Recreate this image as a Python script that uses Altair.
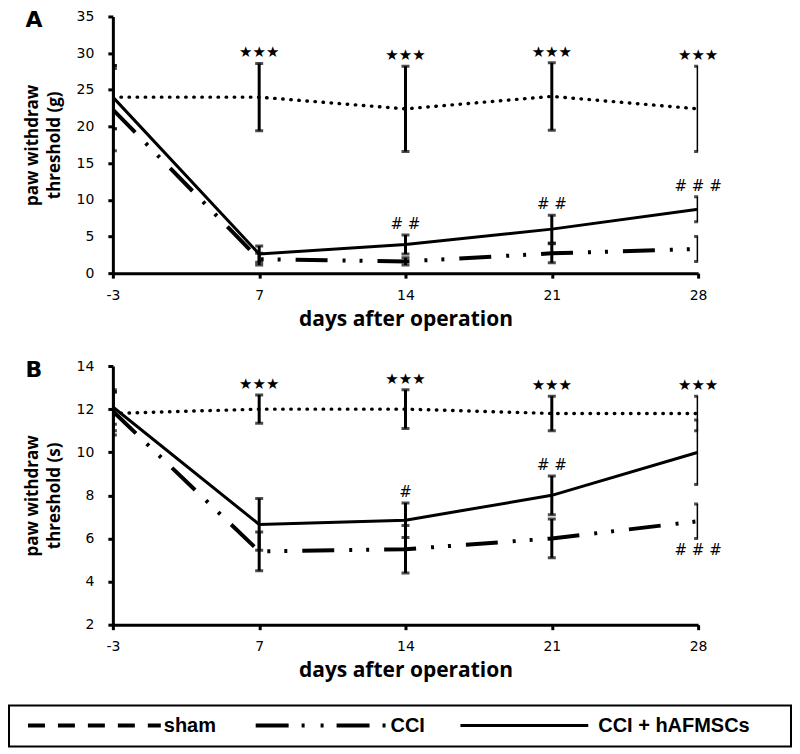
import altair as alt
import pandas as pd

days = ["-3", "7", "14", "21", "28"]
groups = ["sham", "CCI", "CCI + hAFMSCs"]

# Panel A: paw withdraw threshold (g)
sham_A = [24.0, 24.0, 22.4, 24.1, 22.4]
sham_A_err = [4.3, 4.6, 5.8, 4.6, 5.8]
cci_A = [22.3, 1.9, 1.6, 2.7, 3.3]
cci_A_err = [5.6, 0.8, 0.5, 1.3, 1.7]
haf_A = [24.0, 2.6, 3.9, 6.0, 8.7]
haf_A_err = [4.3, 1.1, 1.3, 1.9, 1.7]

# Panel B: paw withdraw threshold (s)
sham_B = [11.8, 12.0, 12.0, 11.8, 11.8]
sham_B_err = [1.0, 0.65, 0.9, 0.8, 0.8]
cci_B = [11.9, 5.4, 5.5, 6.0, 6.8]
cci_B_err = [0.9, 0.9, 1.1, 0.9, 0.8]
haf_B = [12.1, 6.65, 6.85, 8.0, 10.0]
haf_B_err = [0.8, 1.2, 0.8, 0.9, 1.5]

# significance annotations
ann_A_days = ["7", "14", "21", "28", "14", "21", "28"]
ann_A_text = ["★★★", "★★★", "★★★", "★★★", "# #", "# #", "# # #"]
ann_A_ref = ["sham"] * 4 + ["CCI + hAFMSCs"] * 3
ann_A_side = ["above"] * 7

ann_B_days = ["7", "14", "21", "28", "14", "21", "28"]
ann_B_text = ["★★★", "★★★", "★★★", "★★★", "#", "# #", "# # #"]
ann_B_ref = ["sham"] * 4 + ["CCI + hAFMSCs"] * 2 + ["CCI"]
ann_B_side = ["above"] * 6 + ["below"]


def make_df(series):
    rows = []
    for g, (m, e) in zip(groups, series):
        for d, mi, ei in zip(days, m, e):
            rows.append(dict(day=d, group=g, mean=mi, lo=mi - ei, hi=mi + ei))
    return pd.DataFrame(rows)


def make_ann(df, dd, tt, rr, ss):
    rows = []
    for d, t, r, s in zip(dd, tt, rr, ss):
        row = df[(df.day == d) & (df.group == r)].iloc[0]
        rows.append(dict(day=d, label=t, side=s, y=row.hi if s == "above" else row.lo))
    return pd.DataFrame(rows)


dfA = make_df([(sham_A, sham_A_err), (cci_A, cci_A_err), (haf_A, haf_A_err)])
dfB = make_df([(sham_B, sham_B_err), (cci_B, cci_B_err), (haf_B, haf_B_err)])
annA = make_ann(dfA, ann_A_days, ann_A_text, ann_A_ref, ann_A_side)
annB = make_ann(dfB, ann_B_days, ann_B_text, ann_B_ref, ann_B_side)

W = 586


def panel(df, ann, ydom, yvals, ytitle, letter, h):
    xenc = alt.X(
        "day:O", sort=days,
        scale=alt.Scale(type="point", padding=0),
        axis=alt.Axis(title="days after operation", labelAngle=0, labelPadding=10,
                      titleFontSize=21, titlePadding=6),
    )
    yscale = alt.Scale(domain=ydom, nice=False, zero=False)
    yaxis = alt.Axis(values=yvals, title=ytitle, titleFontSize=17, titlePadding=13,
                     titleLineHeight=22, labelPadding=14)

    def Y(f):
        return alt.Y(f, type="quantitative", scale=yscale, axis=yaxis)

    base = alt.Chart(df)
    sham = base.transform_filter(alt.datum.group == "sham").mark_line(
        color="black", strokeWidth=3.4, strokeDash=[0.5, 7.6], strokeCap="round", clip=True
    ).encode(x=xenc, y=Y("mean"))
    cci = base.transform_filter(alt.datum.group == "CCI").mark_line(
        color="black", strokeWidth=4, strokeDash=[32, 15, 3, 14, 3, 15], clip=True
    ).encode(x=xenc, y=Y("mean"))
    haf = base.transform_filter(alt.datum.group == "CCI + hAFMSCs").mark_line(
        color="black", strokeWidth=3, clip=True
    ).encode(x=xenc, y=Y("mean"))
    rules = base.mark_rule(color="black", strokeWidth=3, clip=True).encode(
        x=xenc, y=Y("lo"), y2="hi:Q")
    cap_lo = base.mark_tick(color="black", thickness=3, size=8, orient="horizontal", clip=True).encode(
        x=xenc, y=Y("lo"))
    cap_hi = base.mark_tick(color="black", thickness=3, size=8, orient="horizontal", clip=True).encode(
        x=xenc, y=Y("hi"))
    ann_base = alt.Chart(ann)
    above = ann_base.transform_filter(alt.datum.side == "above").mark_text(
        font="DejaVu Sans", fontSize=15, color="black", dy=-11, baseline="middle"
    ).encode(x=xenc, y=Y("y"), text="label:N")
    below = ann_base.transform_filter(alt.datum.side == "below").mark_text(
        font="DejaVu Sans", fontSize=15, color="black", dy=12, baseline="middle"
    ).encode(x=xenc, y=Y("y"), text="label:N")
    lt = alt.Chart(pd.DataFrame({"t": [letter]})).mark_text(
        font="DejaVu Sans", fontSize=22, fontWeight="bold", color="black",
        align="center", baseline="top"
    ).encode(x=alt.value(-79), y=alt.value(-6), text="t:N")
    return alt.layer(sham, cci, haf, rules, cap_lo, cap_hi, above, below, lt).properties(
        width=W, height=h)


chartA = panel(dfA, annA, [0, 35], [0, 5, 10, 15, 20, 25, 30, 35],
               ["paw withdraw", "threshold (g)"], "A", 257)
chartB = panel(dfB, annB, [2, 14], [2, 4, 6, 8, 10, 12, 14],
               ["paw withdraw", "threshold (s)"], "B", 259)

dummy = pd.DataFrame({"k": [0]})
LY = 8
box = alt.Chart(dummy).mark_rect(fill="white", stroke="black", strokeWidth=2).encode(
    x=alt.value(-104), x2=alt.value(679), y=alt.value(-12), y2=alt.value(29))
l1 = alt.Chart(dummy).mark_rule(color="black", strokeWidth=4, strokeDash=[17, 13]).encode(
    x=alt.value(-85), x2=alt.value(48), y=alt.value(LY))
l2 = alt.Chart(dummy).mark_rule(color="black", strokeWidth=4, strokeDash=[33, 13, 3, 16, 3, 13]).encode(
    x=alt.value(143), x2=alt.value(274), y=alt.value(LY))
l3 = alt.Chart(dummy).mark_rule(color="black", strokeWidth=3).encode(
    x=alt.value(348), x2=alt.value(476), y=alt.value(LY))


def ltext(lbl, xpos):
    return alt.Chart(pd.DataFrame({"label": [lbl]})).mark_text(
        font="Liberation Sans", fontSize=20, fontWeight="bold", color="black",
        align="left", baseline="middle"
    ).encode(x=alt.value(xpos), y=alt.value(LY), text="label:N")


legend = alt.layer(box, l1, l2, l3, ltext(groups[0], 51), ltext(groups[1], 278),
                   ltext(groups[2], 486)).properties(width=W, height=29)

chart = alt.vconcat(chartA, chartB, legend, spacing=93, bounds="flush").properties(
    padding={"left": 0, "top": 1, "right": 0, "bottom": 0}
).configure_view(strokeWidth=0).configure_axis(
    domainColor="black", domainWidth=3, tickColor="black", tickWidth=3, tickSize=5,
    labelColor="black", labelFont="DejaVu Sans", labelFontSize=14,
    titleColor="black", titleFont="Open Sans", titleFontWeight="bold", grid=False
)

chart.save("out.html", embed_options={"renderer": "svg", "actions": False})
